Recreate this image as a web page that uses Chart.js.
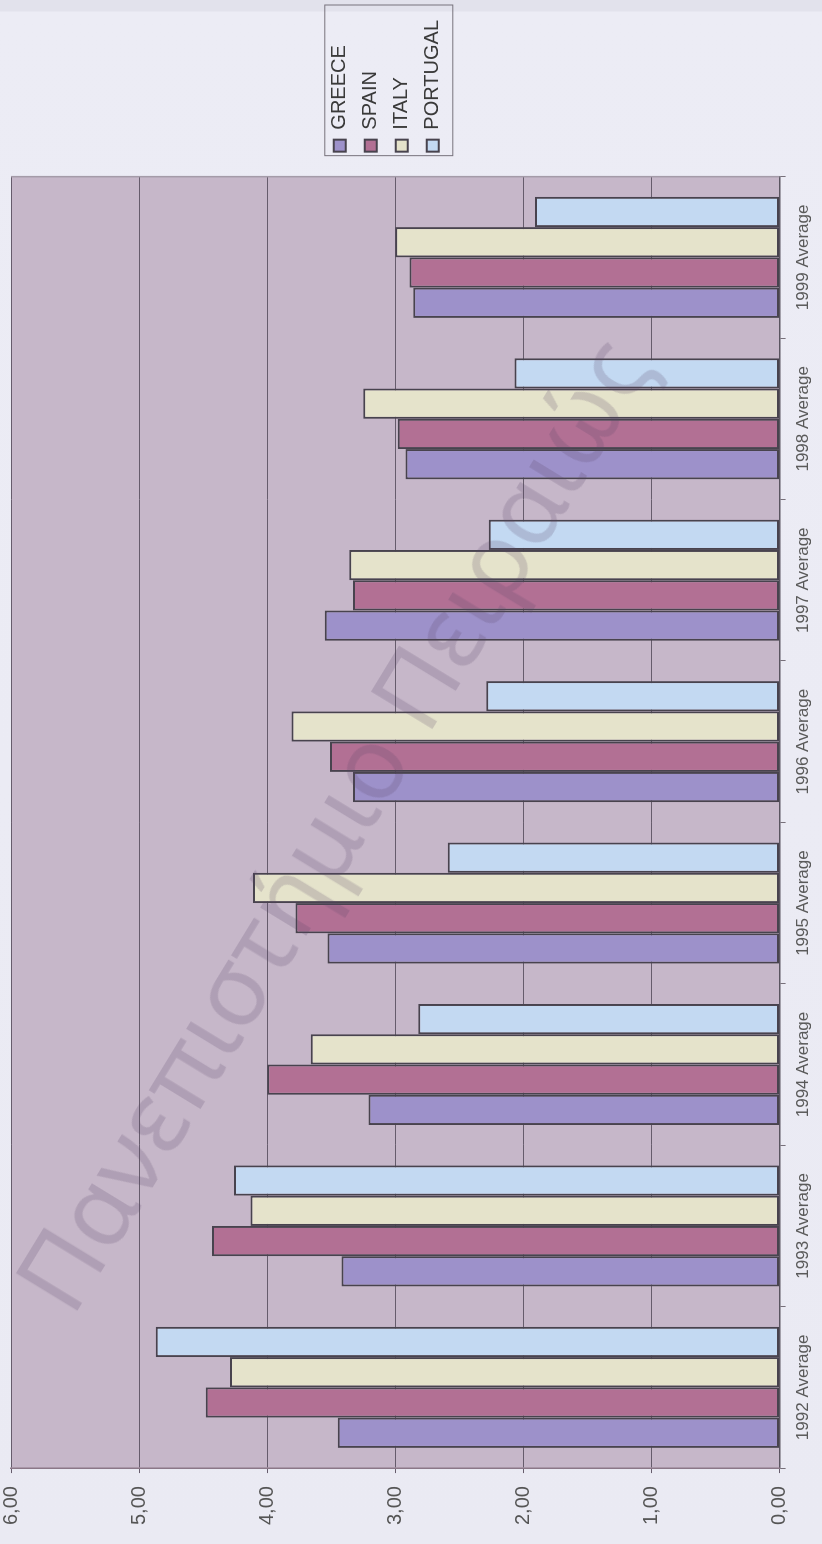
<!DOCTYPE html>
<html>
<head>
<meta charset="utf-8">
<script src="https://cdn.jsdelivr.net/npm/chart.js@4"></script>
<style>
  html, body { margin: 0; padding: 0; }
  body {
    width: 822px; height: 1544px; overflow: hidden; position: relative;
    background: linear-gradient(to bottom, #e2e2ec 0, #e2e2ec 11px, #ececf5 12px, #eaeaf3 100%);
  }
  /* the chart is laid out landscape and turned a quarter turn to the left */
  #wrap {
    position: absolute; left: 0; top: 1544px;
    width: 1544px; height: 822px;
    transform-origin: 0 0; transform: rotate(-90deg);
  }
  #stamp {
    position: absolute; left: 330px; top: 822px;
    transform: translate(-50%, -50%) rotate(-58.6deg);
    white-space: nowrap; pointer-events: none;
    font-family: "Noto Sans", sans-serif; font-size: 100px;
    color: rgba(85, 65, 100, 0.2);
  }
</style>
</head>
<body>
<div id="wrap"><canvas id="chart" width="1544" height="822"></canvas></div>
<div id="stamp">Πανεπιστήμιο Πειραιώς</div>
<script>
const years = ['1992 Average', '1993 Average', '1994 Average', '1995 Average',
               '1996 Average', '1997 Average', '1998 Average', '1999 Average']
const greece = [3.45, 3.42, 3.21, 3.53, 3.33, 3.55, 2.92, 2.86]
const spain = [4.48, 4.43, 4.00, 3.78, 3.51, 3.33, 2.98, 2.89]
const italy = [4.29, 4.13, 3.66, 4.11, 3.81, 3.36, 3.25, 3.00]
const portugal = [4.87, 4.26, 2.82, 2.59, 2.29, 2.27, 2.07, 1.91]
const yTicks = [0, 1, 2, 3, 4, 5, 6]

const font = 'Liberation Sans, Arial, sans-serif'
// legend sits a little above the middle of the plot
const legendShift = -9

function series(label, data, color) {
    return {
        label: label,
        data: data,
        backgroundColor: color,
        borderColor: '#48434e',
        borderWidth: 2,
        borderSkipped: false,
        categoryPercentage: 0.75,
        barPercentage: 1
    }
}

// plot background, outer edge of the plot and the box round the legend
const frame = {
    id: 'frame',
    afterLayout(chart) {
        chart.legend.top += legendShift
        chart.legend.bottom += legendShift
    },
    beforeDraw(chart) {
        const a = chart.chartArea
        const ctx = chart.ctx
        ctx.save()
        ctx.fillStyle = '#c6b7c9'
        ctx.fillRect(a.left, a.top, a.right - a.left, a.bottom - a.top)
        ctx.restore()
    },
    afterDraw(chart) {
        const a = chart.chartArea
        const ctx = chart.ctx
        ctx.save()
        ctx.strokeStyle = '#a49ba8'
        ctx.lineWidth = 1.5
        ctx.beginPath()
        ctx.moveTo(a.right, a.top)
        ctx.lineTo(a.right, a.bottom)
        ctx.stroke()
        const lg = chart.legend
        const hb = lg.legendHitBoxes
        if (hb && hb.length) {
            const first = hb[0], last = hb[hb.length - 1]
            const x0 = first.left - 4
            const y0 = first.top - 5
            const y1 = last.top + last.height + 10
            ctx.strokeStyle = '#77727c'
            ctx.lineWidth = 1
            ctx.strokeRect(x0, y0, lg.right + 5 - x0, y1 - y0)
        }
        ctx.restore()
    }
}

new Chart(document.getElementById('chart'), {
    type: 'bar',
    data: {
        labels: years,
        datasets: [
            series('GREECE', greece, '#9d91ca'),
            series('SPAIN', spain, '#b27094'),
            series('ITALY', italy, '#e5e3cb'),
            series('PORTUGAL', portugal, '#c3d9f2')
        ]
    },
    options: {
        responsive: false,
        animation: false,
        layout: { padding: { left: 6, right: 10, top: 0, bottom: 0 } },
        scales: {
            x: {
                grid: { offset: true, drawOnChartArea: false, tickLength: 6, color: '#77707a' },
                border: { color: '#5a5560', width: 1.5 },
                ticks: { padding: 8, color: '#5a5a5a', font: { family: font, size: 17 } }
            },
            y: {
                min: 0,
                max: 6,
                afterBuildTicks: s => { s.ticks = yTicks.map(v => ({ value: v })) },
                afterFit: s => { s.paddingTop = 11 },
                grid: { color: '#665c6c', lineWidth: 1, tickLength: 5 },
                border: { color: '#8b7888', width: 1.5 },
                ticks: {
                    padding: 13,
                    color: '#555',
                    font: { family: font, size: 20 },
                    callback: v => v.toFixed(2).replace('.', ',')
                }
            },
            gap: {
                type: 'linear',
                position: 'right',
                display: true,
                grid: { display: false },
                border: { display: false },
                ticks: { display: false },
                afterFit: s => { s.width = 14 }
            }
        },
        plugins: {
            legend: {
                position: 'right',
                fullSize: false,
                labels: {
                    color: '#3a3a3a',
                    font: { family: font, size: 20 },
                    boxWidth: 12,
                    boxHeight: 12,
                    padding: 11
                }
            },
            tooltip: { enabled: false }
        }
    },
    plugins: [frame]
})
</script>
</body>
</html>
